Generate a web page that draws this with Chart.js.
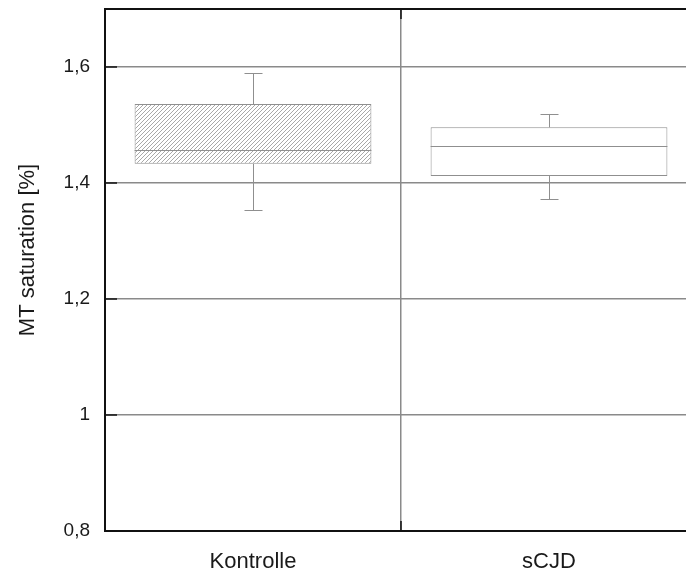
<!DOCTYPE html>
<html>
<head>
<meta charset="utf-8">
<script src="https://cdn.jsdelivr.net/npm/chart.js@4/dist/chart.umd.min.js"></script>
<style>
  html, body { margin: 0; padding: 0; background: #fff; overflow: hidden; }
  #wrap { width: 686px; height: 574px; overflow: hidden; }
</style>
</head>
<body>
<div id="wrap"><canvas id="myChart" width="700" height="574"></canvas></div>
<script>
// groups and box statistics
let groups = ["Kontrolle", "sCJD"];
let whiskerLow = [1.353, 1.372];
let q1 = [1.433, 1.412];
let median = [1.457, 1.464];
let q3 = [1.536, 1.496];
let whiskerHigh = [1.589, 1.519];
let yTicks = [0.8, 1.0, 1.2, 1.4, 1.6];
let yTitle = "MT saturation [%]";

//hatch pattern for the first box
function makeHatch() {
  let c = document.createElement("canvas");
  c.width = 4;
  c.height = 4;
  let g = c.getContext("2d");
  g.fillStyle = "#fff";
  g.fillRect(0, 0, 4, 4);
  g.strokeStyle = "#a8a8a8";
  g.lineWidth = 1;
  g.beginPath();
  g.moveTo(0, 4); g.lineTo(4, 0);
  g.moveTo(-1, 1); g.lineTo(1, -1);
  g.moveTo(3, 5); g.lineTo(5, 3);
  g.stroke();
  return g.createPattern(c, "repeat");
}

let ctx = document.getElementById("myChart").getContext("2d");

//whiskers, medians, frame bits and the y title
let boxExtras = {
  id: "boxExtras",
  afterDatasetsDraw(chart) {
    let g = chart.ctx;
    let y = chart.scales.y;
    let area = chart.chartArea;
    let meta = chart.getDatasetMeta(0);
    g.save();
    g.strokeStyle = "#8f8f8f";
    g.lineWidth = 1;
    meta.data.forEach(function(bar, i) {
      let x = Math.round(bar.x) + 0.5;
      let half = bar.width / 2;
      let cap = 9;
      g.beginPath();
      g.moveTo(x, y.getPixelForValue(q3[i]));
      g.lineTo(x, y.getPixelForValue(whiskerHigh[i]));
      g.moveTo(x - cap, Math.round(y.getPixelForValue(whiskerHigh[i])) + 0.5);
      g.lineTo(x + cap, Math.round(y.getPixelForValue(whiskerHigh[i])) + 0.5);
      g.moveTo(x, y.getPixelForValue(q1[i]));
      g.lineTo(x, y.getPixelForValue(whiskerLow[i]));
      g.moveTo(x - cap, Math.round(y.getPixelForValue(whiskerLow[i])) + 0.5);
      g.lineTo(x + cap, Math.round(y.getPixelForValue(whiskerLow[i])) + 0.5);
      let my = Math.round(y.getPixelForValue(median[i])) + 0.5;
      g.moveTo(bar.x - half, my);
      g.lineTo(bar.x + half, my);
      g.stroke();
    });

    //top frame line
    g.strokeStyle = "#111";
    g.lineWidth = 2;
    g.beginPath();
    g.moveTo(area.left - 1, area.top);
    g.lineTo(area.right, area.top);
    g.stroke();

    //inner ticks on the y axis
    g.lineWidth = 1.5;
    yTicks.forEach(function(v) {
      let py = y.getPixelForValue(v);
      g.beginPath();
      g.moveTo(area.left, py);
      g.lineTo(area.left + 12, py);
      g.stroke();
    });

    //inner ticks at the category divider
    let xMid = (meta.data[0].x + meta.data[1].x) / 2;
    g.beginPath();
    g.moveTo(xMid, area.top);
    g.lineTo(xMid, area.top + 10);
    g.moveTo(xMid, area.bottom);
    g.lineTo(xMid, area.bottom - 10);
    g.stroke();

    //y title
    g.fillStyle = "#1a1a1a";
    g.font = "22px 'Liberation Sans', Arial, sans-serif";
    g.textAlign = "center";
    g.textBaseline = "middle";
    g.translate(28, 250);
    g.rotate(-Math.PI / 2);
    g.fillText(yTitle, 0, 0);
    g.restore();
  }
};

let boxChart = new Chart(ctx, {
  type: "bar",
  data: {
    labels: groups,
    datasets: [
      {
        label: yTitle,
        data: groups.map(function(g, i) { return [q1[i], q3[i]]; }),
        backgroundColor: [makeHatch(), "#ffffff"],
        borderColor: "#8f8f8f",
        borderWidth: 1,
        borderSkipped: false,
        barPercentage: 0.8,
        categoryPercentage: 1.0
      }
    ]
  },
  options: {
    responsive: false,
    animation: false,
    devicePixelRatio: 1,
    layout: { padding: { top: 9, right: 3, left: 0, bottom: 0 } },
    plugins: {
      legend: { display: false },
      tooltip: { enabled: false }
    },
    scales: {
      x: {
        afterFit: function(scale) {
          scale.height = 43;
          scale.paddingLeft = 0;
          scale.paddingRight = 0;
        },
        grid: {
          offset: true,
          color: "#8a8a8a",
          lineWidth: 1.5,
          drawTicks: false
        },
        border: { color: "#111", width: 2 },
        ticks: {
          padding: 18,
          color: "#1a1a1a",
          font: { family: "'Liberation Sans', Arial, sans-serif", size: 22 }
        }
      },
      y: {
        min: 0.8,
        max: 1.7,
        afterFit: function(scale) {
          scale.width = 105;
          scale.paddingTop = 0;
          scale.paddingBottom = 0;
        },
        afterBuildTicks: function(scale) {
          scale.ticks = yTicks.map(function(v) { return { value: v }; });
        },
        grid: {
          color: "#8a8a8a",
          lineWidth: 1.5,
          drawTicks: false
        },
        border: { color: "#111", width: 2 },
        ticks: {
          padding: 15,
          color: "#1a1a1a",
          font: { family: "'Liberation Sans', Arial, sans-serif", size: 19 },
          callback: function(v) { return String(v).replace(".", ","); }
        }
      }
    }
  },
  plugins: [boxExtras]
});
</script>
</body>
</html>
